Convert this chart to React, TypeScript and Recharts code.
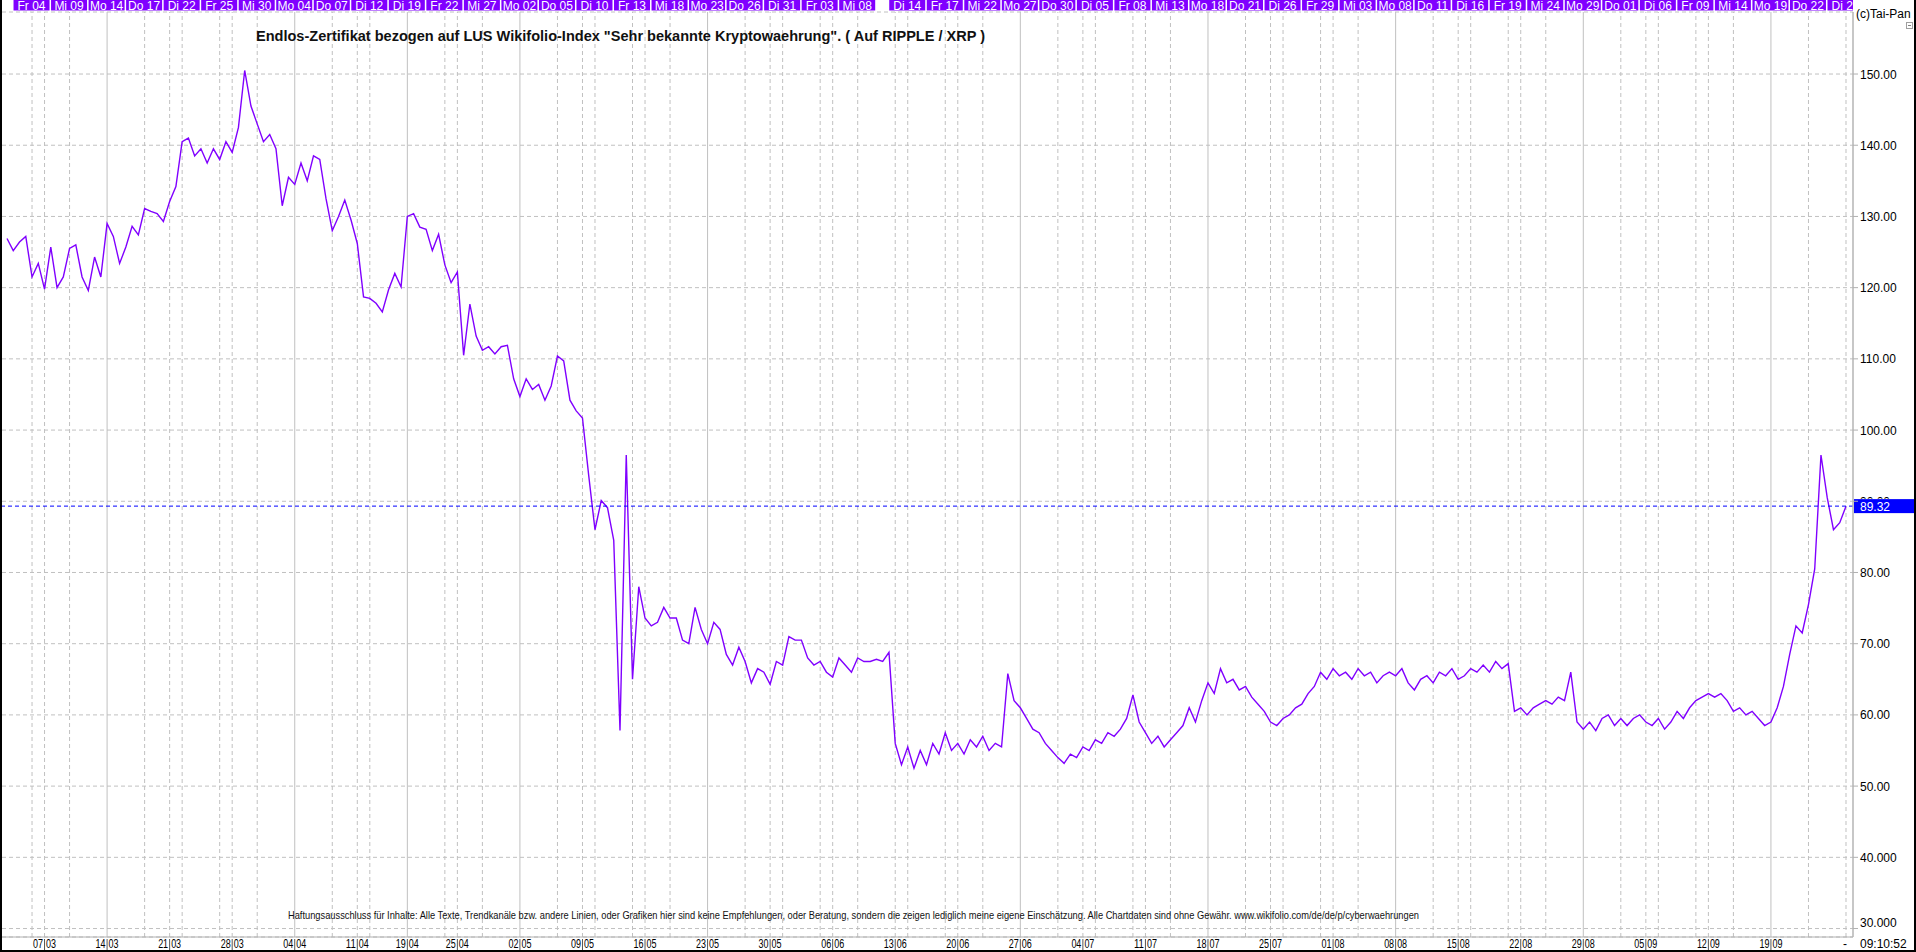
import React from "react";
import {
  LineChart,
  Line,
  XAxis,
  YAxis,
  CartesianGrid,
  ReferenceLine,
} from "recharts";

// x = trading days since Mi 02.03.2022, two samples per day
const SAMPLES_PER_DAY = 2;

const price = [
  126.9, 125.2, 126.4, 127.2, 121.5, 123.4, 119.8, 125.7, 120.0, 121.5,
  125.5, 126.0, 121.5, 119.6, 124.3, 121.5, 129.0, 127.2, 123.4, 125.7,
  128.6, 127.4, 131.1, 130.7, 130.4, 129.3, 132.1, 134.2, 140.5, 141.0,
  138.5, 139.5, 137.5, 139.5, 138.0, 140.5, 139.0, 142.5, 150.5, 145.5,
  143.0, 140.5, 141.5, 139.5, 131.5, 135.5, 134.5, 137.5, 135.0, 138.5,
  138.0, 132.5, 128.0, 130.0, 132.3, 129.5, 126.2, 118.7, 118.5, 117.8,
  116.6, 119.7, 122.0, 120.1, 130.0, 130.4, 128.5, 128.2, 125.2, 127.5,
  123.2, 120.7, 122.2, 110.5, 117.7, 113.2, 111.2, 111.7, 110.7, 111.7,
  111.9, 107.2, 104.7, 107.2, 105.7, 106.4, 104.2, 106.2, 110.4, 109.7,
  104.2, 102.7, 101.7, 93.6, 86.0, 90.1, 89.1, 84.5, 57.8, 96.5,
  65.0, 78.0, 73.6, 72.5, 73.0, 75.1, 73.6, 73.6, 70.5, 70.0,
  75.1, 72.0, 70.0, 73.0, 72.0, 68.5, 67.0, 69.5, 67.5, 64.5,
  66.5, 66.0, 64.3, 67.5, 67.0, 71.0, 70.5, 70.5, 68.0, 67.0,
  67.5, 66.0, 65.3, 68.0, 67.0, 66.0, 68.0, 67.5, 67.5, 67.8,
  67.5, 68.8, 56.0, 53.0, 55.5, 52.5, 55.0, 53.0, 56.0, 54.5,
  57.5, 55.0, 56.0, 54.5, 56.5, 55.5, 57.0, 55.0, 56.0, 55.5,
  65.8, 62.0, 61.0, 59.5, 58.0, 57.5, 56.0, 55.0, 54.0, 53.2,
  54.5, 54.0, 55.5, 55.0, 56.5, 56.0, 57.5, 57.0, 58.0, 59.5,
  62.8, 59.0, 57.5, 56.0, 57.0, 55.5, 56.5, 57.5, 58.5, 61.0,
  59.0, 62.0, 64.5, 63.0, 66.5, 64.5, 65.0, 63.5, 64.0, 62.5,
  61.5, 60.5, 59.0, 58.5, 59.5, 60.0, 61.0, 61.5, 63.0, 64.0,
  66.0, 65.0, 66.5, 65.5, 66.0, 65.0, 66.5, 65.5, 66.0, 64.5,
  65.5, 66.0, 65.5, 66.5, 64.5, 63.5, 65.0, 65.5, 64.5, 66.0,
  65.5, 66.5, 65.0, 65.5, 66.5, 66.0, 67.0, 66.0, 67.5, 66.5,
  67.2, 60.5, 61.0, 60.0, 61.0, 61.5, 62.0, 61.5, 62.5, 62.0,
  66.0, 59.0, 58.0, 59.0, 57.8, 59.5, 60.0, 58.5, 59.5, 58.5,
  59.5, 60.0, 59.0, 58.5, 59.5, 58.0, 59.0, 60.5, 59.5, 61.0,
  62.0, 62.5, 63.0, 62.5, 63.0, 62.0, 60.5, 61.0, 60.0, 60.5,
  59.5, 58.5, 59.0, 61.0, 64.0, 68.5, 72.5, 71.5, 75.5, 80.5,
  96.5, 90.5, 86.0, 87.0, 89.3,
];

// top bar: every third trading day
const topDays = [
  2, 5, 8, 11, 14, 17, 20, 23, 26, 29, 32, 35, 38, 41, 44, 47, 50, 53, 56, 59,
  62, 65, 68, 72, 75, 78, 81, 84, 87, 90, 93, 96, 99, 102, 105, 108, 111, 114,
  117, 120, 123, 126, 129, 132, 135, 138, 141, 144, 147,
];
const topLabels = [
  "Fr 04", "Mi 09", "Mo 14", "Do 17", "Di 22", "Fr 25", "Mi 30", "Mo 04",
  "Do 07", "Di 12", "Di 19", "Fr 22", "Mi 27", "Mo 02", "Do 05", "Di 10",
  "Fr 13", "Mi 18", "Mo 23", "Do 26", "Di 31", "Fr 03", "Mi 08", "Di 14",
  "Fr 17", "Mi 22", "Mo 27", "Do 30", "Di 05", "Fr 08", "Mi 13", "Mo 18",
  "Do 21", "Di 26", "Fr 29", "Mi 03", "Mo 08", "Do 11", "Di 16", "Fr 19",
  "Mi 24", "Mo 29", "Do 01", "Di 06", "Fr 09", "Mi 14", "Mo 19", "Do 22",
  "Di 27",
];

// bottom axis: mondays
const weekDays = [
  3, 8, 13, 18, 23, 28, 32, 36, 41, 46, 51, 56, 61, 66, 71, 76, 81, 86, 91, 96,
  101, 106, 111, 116, 121, 126, 131, 136, 141,
];
const weekLabels = [
  "07/03", "14/03", "21/03", "28/03", "04/04", "11/04", "19/04", "25/04",
  "02/05", "09/05", "16/05", "23/05", "30/05", "06/06", "13/06", "20/06",
  "27/06", "04/07", "11/07", "18/07", "25/07", "01/08", "08/08", "15/08",
  "22/08", "29/08", "05/09", "12/09", "19/09",
];
const lastDay = 147;

const yTicks = [30, 40, 50, 60, 70, 80, 90, 100, 110, 120, 130, 140, 150];
const lastPrice = 89.32;
const lastTime = "09:10:52";

const title =
  'Endlos-Zertifikat bezogen auf LUS Wikifolio-Index "Sehr bekannte Kryptowaehrung". ( Auf RIPPLE / XRP )';
const disclaimer =
  "Haftungsausschluss für Inhalte: Alle Texte, Trendkanäle bzw. andere Linien, oder Grafiken hier sind keine Empfehlungen, oder Beratung, sondern die zeigen lediglich meine eigene Einschätzung. Alle Chartdaten sind ohne Gewähr.  www.wikifolio.com/de/de/p/cyberwaehrungen";

const data = price.map((v, i) => ({ t: i / SAMPLES_PER_DAY, v }));
const gridDays = Array.from(new Set([...topDays, ...weekDays])).sort((a, b) => a - b);
const solidDays = weekDays.filter((d) => topDays.includes(d));

const W = 1916;
const H = 952;
const PLOT_RIGHT = 1853;
const FONT = "'Liberation Sans', Arial, sans-serif";
const GRID = "#c0c0c0";

function TopTick(props: any) {
  const { x, payload } = props;
  const i = topDays.indexOf(payload.value);
  const label = i >= 0 ? topLabels[i] : "";
  const left = x - 18.5;
  const right = Math.min(x + 17.5, PLOT_RIGHT);
  const id = `topclip-${payload.value}`;
  return (
    <g>
      <defs>
        <clipPath id={id}>
          <rect x={left} y={0} width={right - left} height={12} />
        </clipPath>
      </defs>
      <rect x={left} y={0} width={right - left} height={10.5} fill="#8000ff" />
      <text
        x={x - 0.5}
        y={9.5}
        textAnchor="middle"
        fill="#fff"
        fontSize={12}
        fontFamily={FONT}
        clipPath={`url(#${id})`}
      >
        {label}
      </text>
    </g>
  );
}

function BottomTick(props: any) {
  const { x, payload } = props;
  const i = weekDays.indexOf(payload.value);
  if (i < 0) {
    return (
      <text x={x - 1} y={948} textAnchor="middle" fontSize={12} fontFamily={FONT} fill="#000">
        -
      </text>
    );
  }
  const [dd, mm] = weekLabels[i].split("/");
  return (
    <g>
      <line x1={x} x2={x} y1={939} y2={950} stroke="#555" strokeWidth={1} />
      <text
        x={x - 1.5}
        y={948}
        textAnchor="end"
        fontSize={12}
        fontFamily={FONT}
        fill="#000"
        textLength={10}
        lengthAdjust="spacingAndGlyphs"
      >
        {dd}
      </text>
      <text
        x={x + 1.5}
        y={948}
        textAnchor="start"
        fontSize={12}
        fontFamily={FONT}
        fill="#000"
        textLength={10}
        lengthAdjust="spacingAndGlyphs"
      >
        {mm}
      </text>
    </g>
  );
}

function PriceTick(props: any) {
  const { x, y, payload } = props;
  const v = payload.value;
  const text = v >= 50 ? v.toFixed(2) : v.toFixed(3);
  // the label under the last-price tag only peeks out above it
  const hidden = Math.abs(v - lastPrice) < 2;
  const id = `ytclip-${v}`;
  return (
    <g>
      {hidden && (
        <defs>
          <clipPath id={id}>
            <rect x={x - 2} y={y - 12} width={60} height={9.5} />
          </clipPath>
        </defs>
      )}
      <text
        x={x}
        y={y + (v === 30 ? -6 : 0) + 4.5}
        textAnchor="start"
        fontSize={12}
        fontFamily={FONT}
        fill="#000"
        clipPath={hidden ? `url(#${id})` : undefined}
      >
        {text}
      </text>
    </g>
  );
}

function PriceTag(props: any) {
  const { viewBox } = props;
  if (!viewBox) return null;
  const x = viewBox.x + viewBox.width + 1;
  const y = viewBox.y;
  return (
    <g>
      <rect x={x} y={y - 7} width={62} height={14} fill="#0000ff" />
      <text x={x + 6} y={y + 4.5} fill="#fff" fontSize={12} fontFamily={FONT}>
        {lastPrice.toFixed(2)}
      </text>
    </g>
  );
}

export default function App() {
  return (
    <div style={{ position: "absolute", left: 0, top: 0, width: W, height: H, background: "#fff" }}>
      <LineChart
        width={W}
        height={H}
        data={data}
        margin={{ top: 0, right: 0, bottom: 0, left: 2 }}
      >
        <CartesianGrid stroke={GRID} strokeDasharray="4 3" vertical={false} />
        <XAxis
          dataKey="t"
          type="number"
          domain={[-0.4, 147.56]}
          allowDataOverflow
          ticks={[...weekDays, lastDay]}
          interval={0}
          height={15}
          tick={<BottomTick />}
          tickLine={false}
          axisLine={{ stroke: "#b0b0b0" }}
        />
        <XAxis
          xAxisId="top"
          orientation="top"
          dataKey="t"
          type="number"
          domain={[-0.4, 147.56]}
          allowDataOverflow
          ticks={topDays}
          interval={0}
          height={12}
          tick={<TopTick />}
          tickLine={false}
          axisLine={false}
        />
        <YAxis
          orientation="right"
          type="number"
          domain={[28.81, 158.71]}
          allowDataOverflow
          ticks={yTicks}
          interval={0}
          width={63}
          tickSize={5}
          tickMargin={2}
          tick={<PriceTick />}
          tickLine={{ stroke: "#b0b0b0" }}
          axisLine={{ stroke: "#b4b4b4", strokeWidth: 1.5 }}
        />
        {gridDays.map((d) => (
          <ReferenceLine
            key={`g${d}`}
            x={d}
            stroke={GRID}
            strokeDasharray={solidDays.includes(d) ? undefined : "4 3"}
          />
        ))}
        <Line
          type="linear"
          dataKey="v"
          stroke="#8000ff"
          strokeWidth={1.4}
          dot={false}
          isAnimationActive={false}
        />
        <ReferenceLine
          y={lastPrice}
          stroke="#0000ff"
          strokeDasharray="4 3"
          label={<PriceTag />}
        />
      </LineChart>
      <svg
        width={W}
        height={H}
        style={{ position: "absolute", left: 0, top: 0, pointerEvents: "none" }}
      >
        <text x={256} y={41} fontSize={14} fontWeight="bold" fontFamily={FONT} fill="#111" textLength={729} lengthAdjust="spacingAndGlyphs">
          {title}
        </text>
        <text x={288} y={919} fontSize={11} fontFamily={FONT} fill="#111" textLength={1131} lengthAdjust="spacingAndGlyphs">
          {disclaimer}
        </text>
        <text x={1856} y={18} fontSize={12} fontFamily={FONT} fill="#000">
          (c)Tai-Pan
        </text>
        <rect x={1906.5} y={22.5} width={6} height={6} fill="#fff" stroke="#a0a0a0" />
        <line x1={1908} x2={1911} y1={25.5} y2={25.5} stroke="#808080" />
        <text x={1860} y={948} fontSize={12} fontFamily={FONT} fill="#000">
          {lastTime}
        </text>
        <rect x={0} y={0} width={2} height={H} fill="#000" />
        <rect x={W - 2} y={0} width={2} height={H} fill="#000" />
        <rect x={0} y={H - 2} width={W} height={2} fill="#000" />
      </svg>
    </div>
  );
}
